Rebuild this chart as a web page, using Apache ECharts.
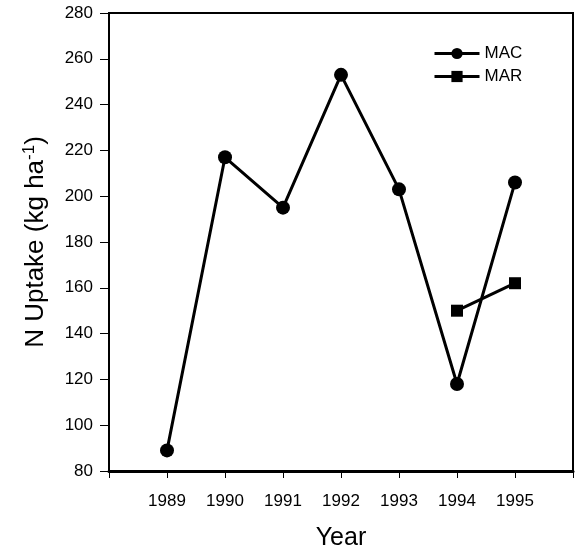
<!DOCTYPE html>
<html>
<head>
<meta charset="utf-8">
<script src="https://cdn.jsdelivr.net/npm/echarts@6/dist/echarts.min.js"></script>
<style>
  html, body { margin: 0; padding: 0; background: #fff; }
  #chart { width: 577px; height: 556px; }
</style>
</head>
<body>
<div id="chart"></div>
<script>
const years = [1989, 1990, 1991, 1992, 1993, 1994, 1995];
const macValues = [89, 217, 195, 253, 203, 118, 206];
const marYears = [1994, 1995];
const marValues = [150, 162];
const yTicks = [80, 100, 120, 140, 160, 180, 200, 220, 240, 260, 280];

const font = '"Liberation Sans", Arial, Helvetica, sans-serif';
const myChart = echarts.init(document.getElementById('chart'));

let option = {
  animation: false,
  textStyle: { fontFamily: font, color: '#000' },
  grid: {
    left: 109, right: 4, top: 13, bottom: 85,
    show: true, borderColor: '#000', borderWidth: 2
  },
  legend: {
    orient: 'vertical',
    left: 428,
    top: 40,
    itemWidth: 45,
    itemHeight: 14,
    itemGap: 6,
    lineStyle: { width: 3, color: '#000' },
    textStyle: { fontFamily: font, fontSize: 17, color: '#000' },
    data: ['MAC', 'MAR']
  },
  xAxis: {
    type: 'value',
    min: 1988,
    max: 1996,
    interval: 1,
    name: 'Year',
    nameLocation: 'middle',
    nameGap: 55,
    nameTextStyle: { fontSize: 25, color: '#000', fontFamily: font },
    axisLine: { show: true, lineStyle: { color: '#000', width: 3 } },
    axisTick: { show: true, inside: false, length: 7, lineStyle: { color: '#000', width: 1 } },
    splitLine: { show: false },
    axisLabel: {
      margin: 22,
      fontSize: 17,
      color: '#000',
      fontFamily: font,
      formatter: v => (years.indexOf(v) >= 0 ? String(v) : '')
    }
  },
  yAxis: {
    type: 'value',
    min: yTicks[0],
    max: yTicks[yTicks.length - 1],
    interval: 20,
    name: '{a|N Uptake (kg ha}{s|-1}{a|)}',
    nameLocation: 'middle',
    nameGap: 58,
    nameTextStyle: {
      color: '#000',
      rich: {
        a: { fontSize: 26, fontFamily: font, color: '#000', lineHeight: 30 },
        s: { fontSize: 17, fontFamily: font, color: '#000', lineHeight: 30, verticalAlign: 'top' }
      }
    },
    axisLine: { show: true, lineStyle: { color: '#000', width: 2 } },
    axisTick: { show: true, inside: false, length: 9, lineStyle: { color: '#000', width: 1 } },
    splitLine: { show: false },
    axisLabel: { margin: 16, fontSize: 17, color: '#000', fontFamily: font }
  },
  series: [
    {
      name: 'MAC',
      type: 'line',
      data: years.map((y, i) => [y, macValues[i]]),
      symbol: 'circle',
      symbolSize: 14,
      lineStyle: { color: '#000', width: 3 },
      itemStyle: { color: '#000' }
    },
    {
      name: 'MAR',
      type: 'line',
      data: marYears.map((y, i) => [y, marValues[i]]),
      symbol: 'rect',
      symbolSize: 12,
      lineStyle: { color: '#000', width: 3 },
      itemStyle: { color: '#000' }
    }
  ]
};
myChart.setOption(option);
</script>
</body>
</html>
